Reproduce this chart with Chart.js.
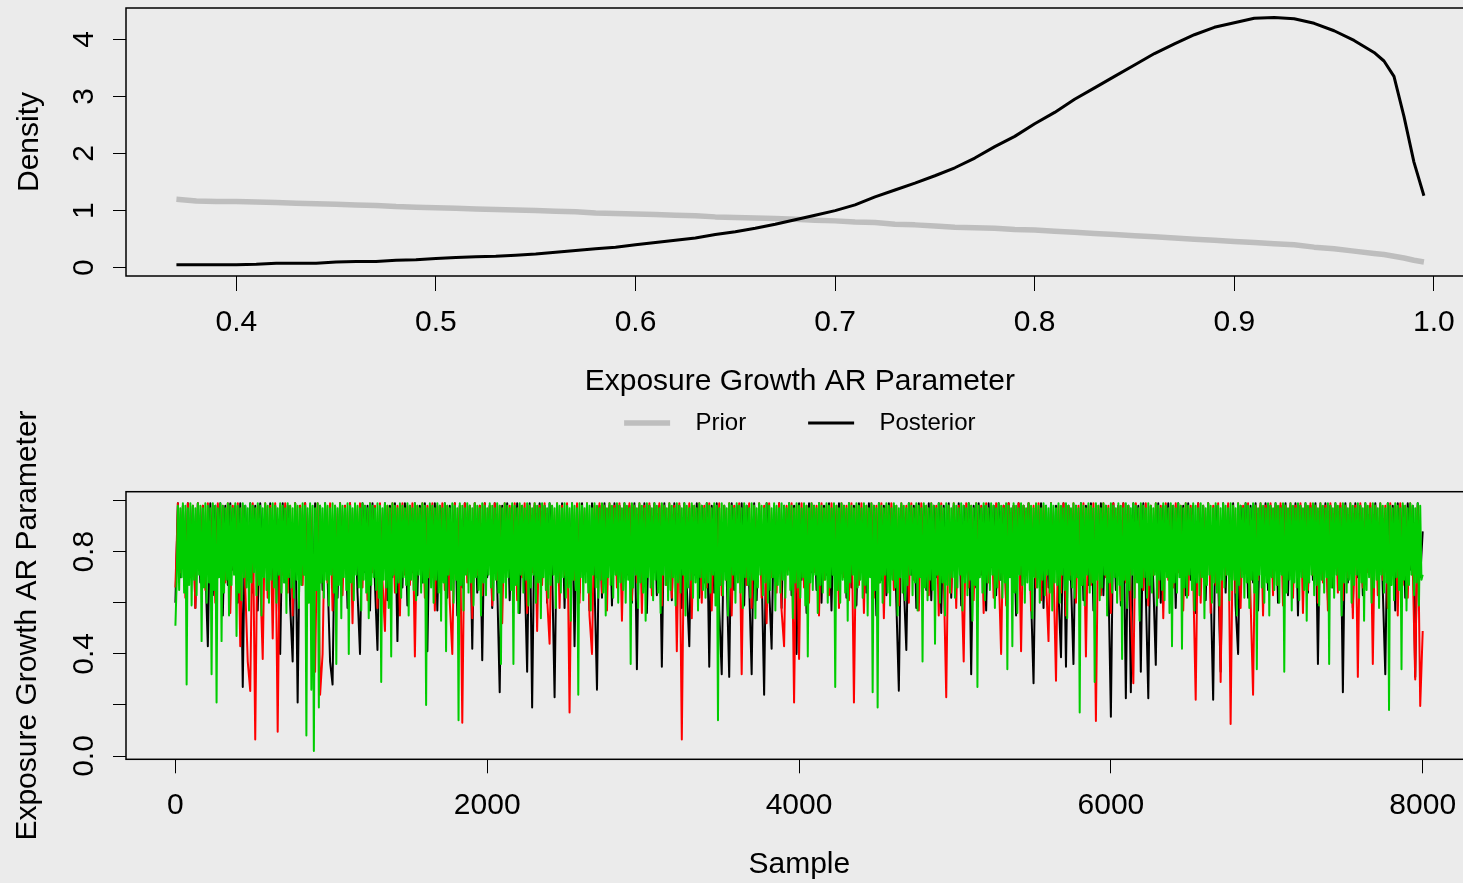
<!DOCTYPE html>
<html><head><meta charset="utf-8">
<script src="https://cdn.jsdelivr.net/npm/chart.js@4.4.1/dist/chart.umd.min.js"></script>
<style>
html,body{margin:0;padding:0;background:#ebebeb;width:1463px;height:883px;overflow:hidden;}
#topChart{position:absolute;left:0;top:0;}
#botChart{position:absolute;left:0;top:380px;}
</style></head><body>
<canvas id="topChart" width="1480" height="450"></canvas>
<canvas id="botChart" width="1480" height="503"></canvas>
<script>
// ---------- data: top panel (density) ----------
const densityX = [0.37,0.38,0.39,0.40,0.41,0.42,0.43,0.44,0.45,0.46,0.47,0.48,0.49,0.50,0.51,0.52,0.53,0.54,0.55,0.56,0.57,0.58,0.59,0.60,0.61,0.62,0.63,0.64,0.65,0.66,0.67,0.68,0.69,0.70,0.71,0.72,0.73,0.74,0.75,0.76,0.77,0.78,0.79,0.80,0.81,0.82,0.83,0.84,0.85,0.86,0.87,0.88,0.89,0.90,0.91,0.92,0.93,0.94,0.95,0.96,0.97,0.975,0.98,0.985,0.99,0.995];
const priorDensity = [1.20,1.17,1.16,1.16,1.15,1.14,1.13,1.12,1.11,1.10,1.09,1.07,1.06,1.05,1.04,1.03,1.02,1.01,1.00,0.99,0.98,0.96,0.95,0.94,0.93,0.92,0.91,0.89,0.88,0.87,0.86,0.85,0.83,0.82,0.80,0.79,0.76,0.75,0.73,0.71,0.70,0.69,0.67,0.66,0.64,0.62,0.60,0.58,0.56,0.54,0.52,0.50,0.48,0.46,0.44,0.42,0.40,0.36,0.33,0.29,0.25,0.23,0.20,0.17,0.13,0.10];
const posteriorDensity = [0.05,0.05,0.05,0.05,0.06,0.08,0.08,0.08,0.10,0.11,0.11,0.13,0.14,0.16,0.18,0.19,0.20,0.22,0.24,0.27,0.30,0.33,0.36,0.40,0.44,0.48,0.52,0.58,0.63,0.69,0.76,0.84,0.92,1.00,1.10,1.24,1.36,1.48,1.61,1.75,1.92,2.12,2.30,2.52,2.72,2.95,3.15,3.35,3.55,3.75,3.92,4.08,4.21,4.29,4.37,4.38,4.36,4.28,4.15,3.98,3.77,3.62,3.35,2.65,1.85,1.26];
const densityXTicks = [0.4,0.5,0.6,0.7,0.8,0.9,1.0];
const densityYTicks = [0,1,2,3,4];
const seriesNames = ['Prior','Posterior'];

// ---------- data: bottom panel (trace of 3 chains) ----------
// chain 3 (green): one value every 8 samples
const greenStep = 8;
const chainGreen = [
.51,.68,.98,.65,.97,.70,.99,.64,.98,.28,.97,.67,.99,.59,.98,.69,.97,.63,.99,.71,
.98,.45,.97,.66,.99,.60,.98,.68,.97,.32,.99,.65,.98,.21,.97,.70,.99,.45,.98,.64,
.97,.69,.99,.55,.98,.67,.97,.71,.99,.47,.98,.64,.97,.61,.99,.70,.98,.66,.97,.57,
.99,.68,.98,.72,.97,.63,.99,.67,.98,.55,.97,.70,.99,.65,.98,.60,.97,.69,.99,.66,
.98,.60,.97,.71,.99,.64,.98,.68,.97,.56,.99,.70,.98,.66,.97,.62,.99,.69,.98,.58,
.97,.67,.99,.71,.98,.08,.97,.60,.99,.26,.98,.02,.97,.65,.99,.19,.98,.68,.97,.62,
.99,.69,.98,.59,.97,.71,.99,.64,.98,.36,.97,.67,.99,.54,.98,.70,.97,.65,.99,.40,
.98,.68,.97,.61,.99,.71,.98,.66,.97,.57,.99,.69,.98,.64,.97,.54,.99,.67,.98,.70,
.97,.65,.99,.62,.98,.29,.97,.69,.99,.66,.98,.58,.97,.39,.99,.71,.98,.64,.97,.68,
.99,.62,.98,.70,.97,.67,.99,.55,.98,.69,.97,.65,.99,.61,.98,.71,.97,.64,.99,.68,
.98,.20,.97,.70,.99,.66,.98,.60,.97,.69,.99,.64,.98,.53,.97,.68,.99,.41,.98,.71,
.97,.65,.99,.60,.98,.69,.97,.14,.99,.67,.98,.57,.97,.71,.99,.64,.98,.68,.97,.59,
.99,.70,.98,.65,.97,.55,.99,.68,.98,.63,.97,.71,.99,.66,.98,.61,.97,.69,.99,.64,
.98,.36,.97,.68,.99,.62,.98,.70,.97,.65,.99,.36,.98,.67,.97,.56,.99,.71,.98,.64,
.97,.69,.99,.59,.98,.66,.97,.71,.99,.60,.98,.68,.97,.54,.99,.70,.98,.65,.97,.62,
.99,.67,.98,.71,.97,.58,.99,.68,.98,.64,.97,.70,.99,.62,.98,.66,.97,.53,.99,.69,
.98,.65,.97,.24,.99,.70,.98,.61,.97,.68,.99,.64,.98,.57,.97,.71,.99,.66,.98,.62,
.97,.69,.99,.64,.98,.55,.97,.70,.99,.67,.98,.62,.97,.71,.99,.60,.98,.68,.97,.65,
.99,.60,.98,.69,.97,.36,.99,.66,.98,.71,.97,.58,.99,.68,.98,.64,.97,.53,.99,.70,
.98,.66,.97,.61,.99,.69,.98,.64,.97,.56,.99,.71,.98,.67,.97,.61,.99,.65,.98,.70,
.97,.59,.99,.68,.98,.64,.97,.71,.99,.55,.98,.66,.97,.69,.99,.62,.98,.68,.97,.57,
.99,.70,.98,.65,.97,.62,.99,.68,.98,.64,.97,.71,.99,.59,.98,.14,.97,.67,.99,.63,
.98,.69,.97,.55,.99,.66,.98,.71,.97,.60,.99,.68,.98,.64,.97,.58,.99,.70,.98,.67,
.97,.62,.99,.69,.98,.54,.97,.66,.99,.71,.98,.63,.97,.68,.99,.60,.98,.65,.97,.70,
.99,.57,.98,.67,.97,.64,.99,.69,.98,.62,.97,.71,.99,.65,.98,.54,.97,.68,.99,.66,
.98,.62,.97,.70,.99,.59,.98,.39,.97,.68,.99,.65,.98,.71,.97,.56,.99,.67,.98,.64,
.97,.69,.99,.60,.98,.66,.97,.71,.99,.27,.98,.65,.97,.60,.99,.69,.98,.64,.97,.53,
.99,.68,.98,.71,.97,.58,.99,.66,.98,.69,.97,.62,.99,.67,.98,.55,.97,.70,.99,.25,
.98,.65,.97,.19,.99,.68,.98,.60,.97,.71,.99,.64,.98,.59,.97,.69,.99,.66,.98,.55,
.97,.70,.99,.64,.98,.61,.97,.67,.99,.71,.98,.63,.97,.68,.99,.57,.98,.70,.97,.37,
.99,.66,.98,.61,.97,.69,.99,.65,.98,.44,.97,.71,.99,.60,.98,.68,.97,.55,.99,.67,
.98,.64,.97,.70,.99,.62,.98,.66,.97,.71,.99,.57,.98,.68,.97,.63,.99,.69,.98,.53,
.97,.67,.99,.27,.98,.70,.97,.64,.99,.61,.98,.68,.97,.65,.99,.71,.98,.58,.97,.66,
.99,.69,.98,.62,.97,.68,.99,.34,.98,.70,.97,.43,.99,.64,.98,.56,.97,.71,.99,.67,
.98,.60,.97,.68,.99,.65,.98,.54,.97,.70,.99,.66,.98,.60,.97,.69,.99,.63,.98,.71,
.97,.64,.99,.57,.98,.68,.97,.67,.99,.60,.98,.71,.97,.65,.99,.54,.98,.69,.97,.66,
.99,.62,.98,.70,.97,.17,.99,.67,.98,.59,.97,.71,.99,.64,.98,.68,.97,.29,.99,.69,
.98,.61,.97,.66,.99,.71,.98,.55,.97,.68,.99,.64,.98,.70,.97,.60,.99,.67,.98,.38,
.97,.69,.99,.58,.98,.65,.97,.71,.99,.62,.98,.68,.97,.53,.99,.66,.98,.70,.97,.62,
.99,.67,.98,.64,.97,.71,.99,.59,.98,.69,.97,.65,.99,.61,.98,.70,.97,.56,.99,.43,
.98,.68,.97,.64,.99,.70,.98,.42,.97,.66,.99,.62,.98,.71,.97,.65,.99,.57,.98,.68,
.97,.63,.99,.70,.98,.54,.97,.67,.99,.71,.98,.60,.97,.68,.99,.64,.98,.59,.97,.69,
.99,.66,.98,.71,.97,.61,.99,.65,.98,.69,.97,.55,.99,.67,.98,.70,.97,.62,.99,.68,
.98,.58,.97,.69,.99,.64,.98,.34,.97,.71,.99,.66,.98,.60,.97,.68,.99,.55,.98,.70,
.97,.65,.99,.67,.98,.60,.97,.71,.99,.33,.98,.64,.97,.69,.99,.57,.98,.68,.97,.66,
.99,.61,.98,.70,.97,.65,.99,.53,.98,.68,.97,.71,.99,.63,.98,.67,.97,.59,.99,.69,
.98,.64,.97,.70,.99,.36,.98,.66,.97,.62,.99,.71,.98,.65,.97,.55,.99,.68,.98,.64,
.97,.69,.99,.60,.98,.67,.97,.71,.99,.62,.98,.68,.97,.53,.99,.65,.98,.70,.97,.60,
.99,.66,.98,.69,.97,.58,.99,.71,.98,.64,.97,.68,.99,.18,.98,.67,.97,.61,.99,.70,
.98,.65,.97,.34,.99,.69,.98,.57,.97,.67,.99,.71,.98,.63,.97,.68,.99,.59,.98,.69,
.71];
// chains 1 (black) and 2 (red): one value every 16 samples
const redBlackStep = 16;
const chainRed = [
.66,.99,.72,.98,.62,.99,.70,.98,.58,.99,.74,.98,.65,.99,.71,.98,.60,.99,.73,.98,
.68,.99,.56,.98,.72,.99,.43,.98,.66,.37,.255,.99,.065,.98,.70,.38,.99,.62,.98,.46,
.99,.095,.98,.71,.99,.64,.98,.55,.99,.73,.98,.67,.99,.60,.98,.72,.33,.99,.24,.40,
.98,.68,.99,.57,.98,.74,.99,.63,.98,.70,.99,.52,.98,.75,.99,.66,.98,.61,.99,.72,
.98,.58,.99,.69,.49,.98,.73,.99,.64,.98,.55,.99,.71,.98,.67,.99,.39,.98,.74,.99,
.62,.98,.70,.99,.57,.98,.73,.99,.65,.98,.60,.40,.99,.72,.98,.13,.99,.68,.98,.54,
.99,.71,.98,.63,.99,.75,.98,.59,.99,.69,.98,.52,.99,.73,.98,.66,.99,.61,.98,.70,
.99,.56,.98,.72,.99,.49,.98,.67,.99,.62,.44,.98,.74,.99,.58,.98,.71,.99,.17,.98,
.69,.99,.60,.98,.73,.99,.55,.40,.98,.70,.99,.64,.98,.57,.99,.72,.98,.66,.99,.53,
.98,.74,.99,.61,.98,.68,.99,.56,.98,.71,.99,.63,.98,.75,.99,.59,.98,.67,.99,.62,
.98,.41,.99,.065,.98,.70,.99,.54,.98,.73,.99,.60,.98,.66,.99,.57,.98,.72,.99,.63,
.98,.69,.99,.55,.98,.74,.99,.32,.98,.67,.99,.58,.98,.71,.99,.62,.98,.52,.99,.70,
.98,.64,.99,.57,.43,.98,.73,.99,.21,.98,.38,.99,.66,.98,.60,.99,.72,.98,.55,.99,
.69,.98,.63,.99,.74,.98,.58,.99,.70,.98,.61,.99,.21,.98,.67,.99,.56,.98,.73,.99,
.62,.98,.68,.99,.54,.98,.71,.99,.65,.98,.59,.99,.74,.98,.60,.99,.69,.98,.57,.99,
.72,.98,.63,.99,.67,.98,.55,.99,.70,.23,.98,.64,.99,.58,.98,.73,.37,.99,.66,.98,
.61,.99,.71,.98,.56,.99,.68,.98,.62,.99,.74,.40,.98,.59,.99,.70,.98,.65,.99,.41,
.98,.72,.99,.57,.98,.66,.99,.61,.98,.69,.45,.99,.73,.295,.98,.64,.99,.55,.98,.71,
.99,.60,.98,.74,.99,.39,.98,.67,.99,.137,.98,.63,.99,.70,.98,.56,.99,.72,.98,.61,
.99,.68,.98,.58,.285,.99,.73,.98,.65,.99,.59,.98,.71,.99,.62,.98,.54,.99,.69,.98,
.66,.99,.72,.98,.57,.99,.63,.98,.70,.22,.99,.60,.98,.74,.99,.56,.98,.67,.99,.29,
.98,.71,.99,.125,.98,.64,.99,.58,.98,.73,.99,.61,.24,.98,.69,.99,.55,.98,.72,.99,
.63,.98,.67,.99,.59,.98,.74,.99,.62,.98,.70,.99,.56,.98,.65,.99,.71,.98,.60,.99,
.68,.98,.57,.99,.73,.98,.64,.99,.61,.98,.70,.99,.54,.98,.31,.99,.66,.98,.72,.99,
.36,.98,.63,.99,.69,.98,.58,.99,.71,.98,.55,.99,.67,.98,.62,.99,.74,.30,.98,.196,
.49];
const chainBlack = [
.60,.99,.70,.98,.65,.99,.72,.98,.58,.99,.68,.98,.74,.43,.99,.63,.98,.71,.99,.55,
.98,.67,.99,.73,.98,.60,.99,.27,.98,.70,.99,.64,.98,.57,.99,.72,.98,.66,.99,.61,
.98,.74,.40,.99,.68,.98,.59,.37,.99,.21,.98,.71,.99,.63,.98,.56,.99,.73,.98,.65,
.99,.70,.37,.28,.98,.62,.99,.74,.98,.58,.99,.69,.98,.64,.40,.99,.72,.98,.57,.99,
.67,.415,.98,.73,.99,.61,.98,.70,.99,.45,.98,.66,.99,.59,.98,.72,.99,.63,.98,.68,
.99,.41,.98,.74,.99,.57,.98,.69,.99,.62,.98,.71,.99,.55,.98,.66,.99,.73,.98,.42,
.99,.64,.98,.375,.99,.70,.98,.58,.99,.67,.25,.98,.72,.99,.61,.98,.69,.99,.56,.98,
.73,.33,.99,.19,.98,.65,.99,.70,.98,.60,.99,.74,.23,.98,.67,.99,.58,.98,.71,.99,
.43,.98,.64,.99,.72,.98,.57,.99,.68,.26,.98,.62,.99,.73,.98,.59,.99,.70,.98,.65,
.99,.71,.98,.60,.99,.34,.98,.67,.99,.56,.98,.73,.99,.63,.98,.35,.99,.69,.98,.61,
.99,.74,.98,.58,.99,.66,.43,.98,.71,.99,.62,.98,.68,.99,.35,.98,.64,.99,.57,.32,
.98,.70,.31,.99,.65,.98,.72,.99,.59,.98,.67,.32,.99,.61,.98,.73,.24,.99,.66,.42,
.98,.70,.99,.58,.98,.74,.99,.63,.98,.40,.99,.69,.98,.56,.99,.72,.98,.65,.99,.60,
.98,.71,.99,.57,.98,.68,.99,.74,.98,.62,.99,.66,.98,.59,.99,.73,.98,.64,.99,.70,
.98,.55,.99,.69,.98,.63,.99,.72,.98,.60,.256,.98,.67,.415,.99,.71,.98,.58,.99,.74,
.98,.65,.99,.61,.98,.70,.99,.56,.98,.73,.99,.62,.98,.68,.99,.59,.98,.72,.99,.32,
.98,.66,.99,.71,.98,.57,.99,.74,.98,.63,.99,.69,.98,.60,.99,.72,.98,.55,.99,.67,
.98,.73,.99,.62,.285,.98,.70,.99,.58,.98,.66,.99,.71,.98,.64,.387,.99,.35,.98,.69,
.36,.98,.72,.99,.61,.98,.67,.99,.57,.98,.74,.99,.63,.98,.70,.154,.99,.65,.98,.59,
.99,.226,.98,.25,.99,.71,.98,.33,.99,.64,.226,.98,.68,.357,.99,.60,.98,.73,.99,.66,
.98,.58,.99,.72,.98,.63,.99,.69,.98,.56,.99,.74,.98,.61,.99,.67,.22,.98,.70,.33,
.99,.64,.98,.71,.99,.59,.40,.98,.73,.99,.62,.98,.68,.99,.57,.98,.72,.99,.65,.98,
.70,.99,.60,.98,.74,.99,.63,.98,.67,.99,.55,.98,.71,.99,.64,.98,.69,.99,.36,.98,
.72,.99,.61,.98,.66,.99,.73,.98,.25,.99,.68,.98,.58,.99,.70,.98,.63,.99,.74,.98,
.60,.99,.69,.98,.65,.32,.99,.72,.98,.57,.99,.67,.98,.62,.99,.73,.98,.31,.99,.70,
.88];
const sampleTicks = [0,2000,4000,6000,8000];
const traceYTicks = [0,0.2,0.4,0.6,0.8,1.0];
const traceYLabels = ['0.0','','0.4','','0.8',''];

// ---------- rendering ----------
const FONT = '"Liberation Sans", Arial, Helvetica, sans-serif';
Chart.defaults.font.family = FONT;
Chart.defaults.color = '#000';

const boxPlugin = {
  id: 'plotBox',
  afterDraw(chart) {
    const {ctx, chartArea: a} = chart;
    ctx.save();
    ctx.strokeStyle = '#000';
    ctx.lineWidth = 1.5;
    ctx.strokeRect(a.left, a.top, a.right - a.left, a.bottom - a.top);
    ctx.restore();
  }
};

const pts = (xs, ys) => xs.map((x, i) => ({x: x, y: ys[i]}));
const trace = (vals, step) => vals.map((v, i) => ({x: i * step, y: v}));
const fixW = w => s => { s.width = w; s.paddingTop = 0; s.paddingBottom = 0; };
const fixH = h => s => { s.height = h; s.paddingLeft = 0; s.paddingRight = 0; };

new Chart(document.getElementById('topChart'), {
  type: 'line',
  data: {
    datasets: [
      {label: '  ' + seriesNames[0], data: pts(densityX, priorDensity), borderColor: '#bebebe', backgroundColor: '#bebebe',
       borderWidth: 5.5, pointRadius: 0, tension: 0, order: 1, borderJoinStyle: 'round'},
      {label: '  ' + seriesNames[1], data: pts(densityX, posteriorDensity), borderColor: '#000', backgroundColor: '#000',
       borderWidth: 3, pointRadius: 0, tension: 0, order: 0, borderJoinStyle: 'round'}
    ]
  },
  options: {
    responsive: false, animation: false, devicePixelRatio: 1,
    layout: {padding: {top: 8, left: 0, right: 6.4, bottom: 5}},
    plugins: {
      legend: {position: 'bottom', fullSize: false,
        labels: {usePointStyle: true, pointStyle: 'line', pointStyleWidth: 46, padding: 62, color: '#000', font: {size: 24},
          sort: (a, b) => a.datasetIndex - b.datasetIndex}},
      tooltip: {enabled: false}
    },
    scales: {
      x: {type: 'linear', min: 0.34474, max: 1.01989,
        afterBuildTicks: s => { s.ticks = densityXTicks.map(v => ({value: v})); },
        afterFit: fixH(73),
        grid: {drawOnChartArea: false, tickLength: 15, color: '#000', lineWidth: 1},
        border: {display: false},
        ticks: {autoSkip: false, maxRotation: 0, padding: 14, color: '#000', font: {size: 30}, callback: v => Number(v).toFixed(1)},
        title: {display: true, text: 'Exposure Growth AR Parameter', color: '#000', font: {size: 30}, padding: {top: 0, bottom: -51}}
      },
      y: {type: 'linear', min: -0.1454, max: 4.548,
        afterBuildTicks: s => { s.ticks = densityYTicks.map(v => ({value: v})); },
        afterFit: fixW(126),
        grid: {drawOnChartArea: false, tickLength: 13, color: '#000', lineWidth: 1},
        border: {display: false},
        ticks: {autoSkip: false, minRotation: 90, maxRotation: 90, crossAlign: 'center', padding: 19.7, color: '#000', font: {size: 30}, callback: v => String(v)},
        title: {display: true, text: 'Density', color: '#000', font: {size: 30}, padding: {top: 12, bottom: 0}}
      }
    }
  },
  plugins: [boxPlugin]
});

new Chart(document.getElementById('botChart'), {
  type: 'line',
  data: {
    datasets: [
      {label: 'Chain 1', data: trace(chainBlack, redBlackStep), borderColor: '#000000', borderWidth: 2, pointRadius: 0, tension: 0, order: 2, borderJoinStyle: 'round'},
      {label: 'Chain 2', data: trace(chainRed, redBlackStep), borderColor: '#ff0000', borderWidth: 2, pointRadius: 0, tension: 0, order: 1, borderJoinStyle: 'round'},
      {label: 'Chain 3', data: trace(chainGreen, greenStep), borderColor: '#00cd00', borderWidth: 2, pointRadius: 0, tension: 0, order: 0, borderJoinStyle: 'round'}
    ]
  },
  options: {
    responsive: false, animation: false, devicePixelRatio: 1,
    layout: {padding: {top: 111.7, left: 0, right: 7.4, bottom: 0}},
    plugins: {legend: {display: false}, tooltip: {enabled: false}},
    scales: {
      x: {type: 'linear', min: -316.9, max: 8320,
        afterBuildTicks: s => { s.ticks = sampleTicks.map(v => ({value: v})); },
        afterFit: fixH(123.7),
        grid: {drawOnChartArea: false, tickLength: 14, color: '#000', lineWidth: 1},
        border: {display: false},
        ticks: {autoSkip: false, maxRotation: 0, padding: 14, color: '#000', font: {size: 30}, callback: v => String(v)},
        title: {display: true, text: 'Sample', color: '#000', font: {size: 30}, padding: {top: 0, bottom: 0}}
      },
      y: {type: 'linear', min: -0.0129, max: 1.0353,
        afterBuildTicks: s => { s.ticks = traceYTicks.map(v => ({value: v})); },
        afterFit: fixW(126),
        grid: {drawOnChartArea: false, tickLength: 13, color: '#000', lineWidth: 1},
        border: {display: false},
        ticks: {autoSkip: false, minRotation: 90, maxRotation: 90, crossAlign: 'center', padding: 7.2, color: '#000', font: {size: 30},
          callback: (v, i) => traceYLabels[i]},
        title: {display: true, text: 'Exposure Growth AR Parameter', color: '#000', font: {size: 30}, padding: {top: 10, bottom: 0}}
      }
    }
  },
  plugins: [boxPlugin]
});
</script>
</body></html>
